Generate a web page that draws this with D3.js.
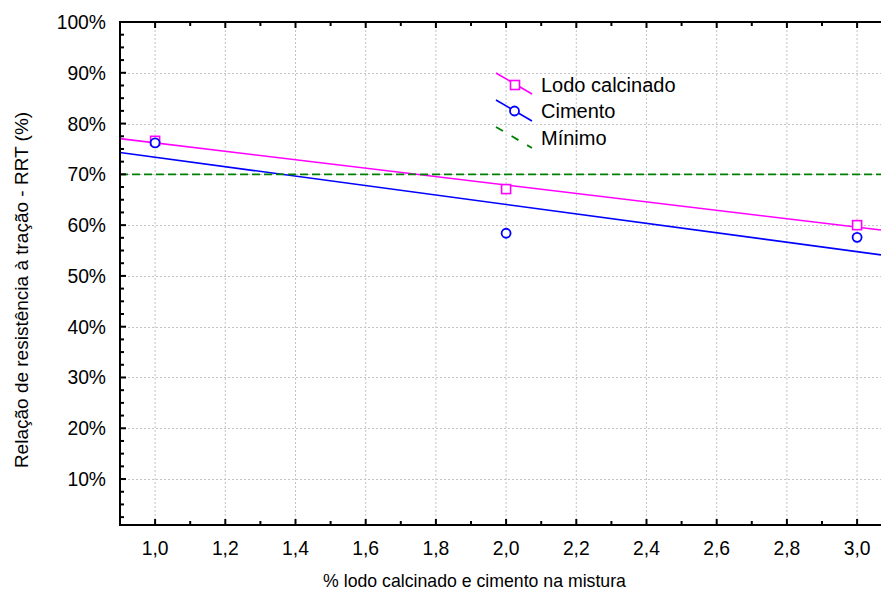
<!DOCTYPE html>
<html><head><meta charset="utf-8">
<script src="https://cdn.jsdelivr.net/npm/d3@7"></script>
<style>body{margin:0;background:#fff}svg{display:block}text{font-family:"Liberation Sans",Arial,sans-serif}</style>
</head><body>
<script>
const xValues = [1.0, 2.0, 3.0];
const lodoValues = [76.6, 67.1, 60.0];
const cimentoValues = [76.2, 58.4, 57.6];
const minimo = 70;
const xTicks = [1.0,1.2,1.4,1.6,1.8,2.0,2.2,2.4,2.6,2.8,3.0];
const yTicks = [10,20,30,40,50,60,70,80,90,100];
const legendLabels = ["Lodo calcinado","Cimento","Mínimo"];
const xTitle = "% lodo calcinado e cimento na mistura";
const yTitle = "Relação de resistência à tração - RRT (%)";

const W=881,H=594, L=120, R=881, T=22, B=525;
const x = d3.scaleLinear().domain([0.9, 0.9 + (R-L)/351]).range([L,R]);
const y = d3.scaleLinear().domain([0.95,100]).range([B,T]);

const svg = d3.select("body").append("svg").attr("width",W).attr("height",H);

// grid
const g = svg.append("g");
g.selectAll(".gx").data(xTicks).enter().append("line")
 .attr("x1",d=>x(d)).attr("x2",d=>x(d)).attr("y1",T).attr("y2",B)
 .attr("stroke","#c4c4c4").attr("stroke-width",1).attr("stroke-dasharray","2,2");
g.selectAll(".gy").data(yTicks.filter(d=>d<100)).enter().append("line")
 .attr("x1",L).attr("x2",R).attr("y1",d=>Math.round(y(d))+0.5).attr("y2",d=>Math.round(y(d))+0.5)
 .attr("stroke","#c4c4c4").attr("stroke-width",1).attr("stroke-dasharray","2,2");

// regression
function fit(xs, ys){
  const n=xs.length, mx=d3.mean(xs), my=d3.mean(ys);
  let sxy=0,sxx=0; for(let i=0;i<n;i++){sxy+=(xs[i]-mx)*(ys[i]-my);sxx+=(xs[i]-mx)**2;}
  const b=sxy/sxx; return v=>my+b*(v-mx);
}
const xd = x.domain();
const fl = fit(xValues,lodoValues), fc = fit(xValues,cimentoValues);
svg.append("line").attr("x1",x(xd[0])).attr("x2",x(xd[1])).attr("y1",y(fl(xd[0]))).attr("y2",y(fl(xd[1])))
 .attr("stroke","#ff00ff").attr("stroke-width",1.6);
svg.append("line").attr("x1",x(xd[0])).attr("x2",x(xd[1])).attr("y1",y(fc(xd[0]))).attr("y2",y(fc(xd[1])))
 .attr("stroke","#0000ff").attr("stroke-width",1.6);
svg.append("line").attr("x1",L).attr("x2",R).attr("y1",y(minimo)).attr("y2",y(minimo))
 .attr("stroke","#008000").attr("stroke-width",1.8).attr("stroke-dasharray","8,4");

// markers
svg.selectAll(".sq").data(xValues).enter().append("rect")
 .attr("x",(d)=>x(d)-4.5).attr("y",(d,i)=>y(lodoValues[i])-4.5).attr("width",9).attr("height",9)
 .attr("fill","#fff").attr("stroke","#ff00ff").attr("stroke-width",1.6);
svg.selectAll(".ci").data(xValues).enter().append("circle")
 .attr("cx",d=>x(d)).attr("cy",(d,i)=>y(cimentoValues[i])).attr("r",4.5)
 .attr("fill","#fff").attr("stroke","#0000ff").attr("stroke-width",1.8);

// axes
const fmtX = d=>d3.format(".1f")(d).replace(".",",");
const xMinor = d3.range(1.0,3.05,0.1);
const yMinor = d3.range(2.5,100,2.5);
const ax = svg.append("g").attr("stroke","#000");
ax.selectAll(".mb").data(xMinor).enter().append("line")
 .attr("x1",d=>x(d)).attr("x2",d=>x(d)).attr("y1",B).attr("y2",(d,i)=>B-(i%2===0?6:4)).attr("stroke-width",2);
ax.selectAll(".mt").data(xMinor).enter().append("line")
 .attr("x1",d=>x(d)).attr("x2",d=>x(d)).attr("y1",T).attr("y2",(d,i)=>T+(i%2===0?6:4)).attr("stroke-width",2);
ax.selectAll(".ml").data(yMinor).enter().append("line")
 .attr("x1",L).attr("x2",(d,i)=>L+((i+1)%4===0?6:4)).attr("y1",d=>y(d)).attr("y2",d=>y(d)).attr("stroke-width",2);
ax.append("line").attr("x1",L).attr("x2",R).attr("y1",B).attr("y2",B).attr("stroke-width",2);
ax.append("line").attr("x1",L).attr("x2",R).attr("y1",T).attr("y2",T).attr("stroke-width",2);
ax.append("line").attr("x1",L).attr("x2",L).attr("y1",T-1).attr("y2",B+1).attr("stroke-width",2);

svg.selectAll(".xl").data(xTicks).enter().append("text")
 .attr("x",d=>x(d)).attr("y",555).attr("text-anchor","middle").attr("font-size",19.3).text(fmtX);
svg.selectAll(".yl").data(yTicks).enter().append("text")
 .attr("x",106).attr("y",d=>y(d)+7).attr("text-anchor","end").attr("font-size",19.3).text(d=>d+"%");

svg.append("text").attr("x",(322+627)/2).attr("y",587).attr("text-anchor","middle").attr("font-size",17.7).text(xTitle);
svg.append("text").attr("transform","translate(28,290) rotate(-90)").attr("text-anchor","middle").attr("font-size",19).text(yTitle);

// legend
const lg = svg.append("g");
const ly = [85,111,138];
lg.append("line").attr("x1",496).attr("y1",ly[0]-12).attr("x2",532).attr("y2",ly[0]+9).attr("stroke","#ff00ff").attr("stroke-width",1.6);
lg.append("rect").attr("x",515-4.5).attr("y",ly[0]-4.5).attr("width",9).attr("height",9).attr("fill","#fff").attr("stroke","#ff00ff").attr("stroke-width",1.6);
lg.append("line").attr("x1",496).attr("y1",ly[1]-11).attr("x2",532).attr("y2",ly[1]+10).attr("stroke","#0000ff").attr("stroke-width",1.6);
lg.append("circle").attr("cx",514.5).attr("cy",ly[1]).attr("r",4.5).attr("fill","#fff").attr("stroke","#0000ff").attr("stroke-width",1.8);
lg.append("line").attr("x1",496).attr("y1",ly[2]-11).attr("x2",532).attr("y2",ly[2]+10).attr("stroke","#008000").attr("stroke-width",1.8).attr("stroke-dasharray","8,10");
lg.selectAll(".lt").data(legendLabels).enter().append("text")
 .attr("x",541).attr("y",(d,i)=>ly[i]+7).attr("font-size",20).text(d=>d);
</script>
</body></html>
